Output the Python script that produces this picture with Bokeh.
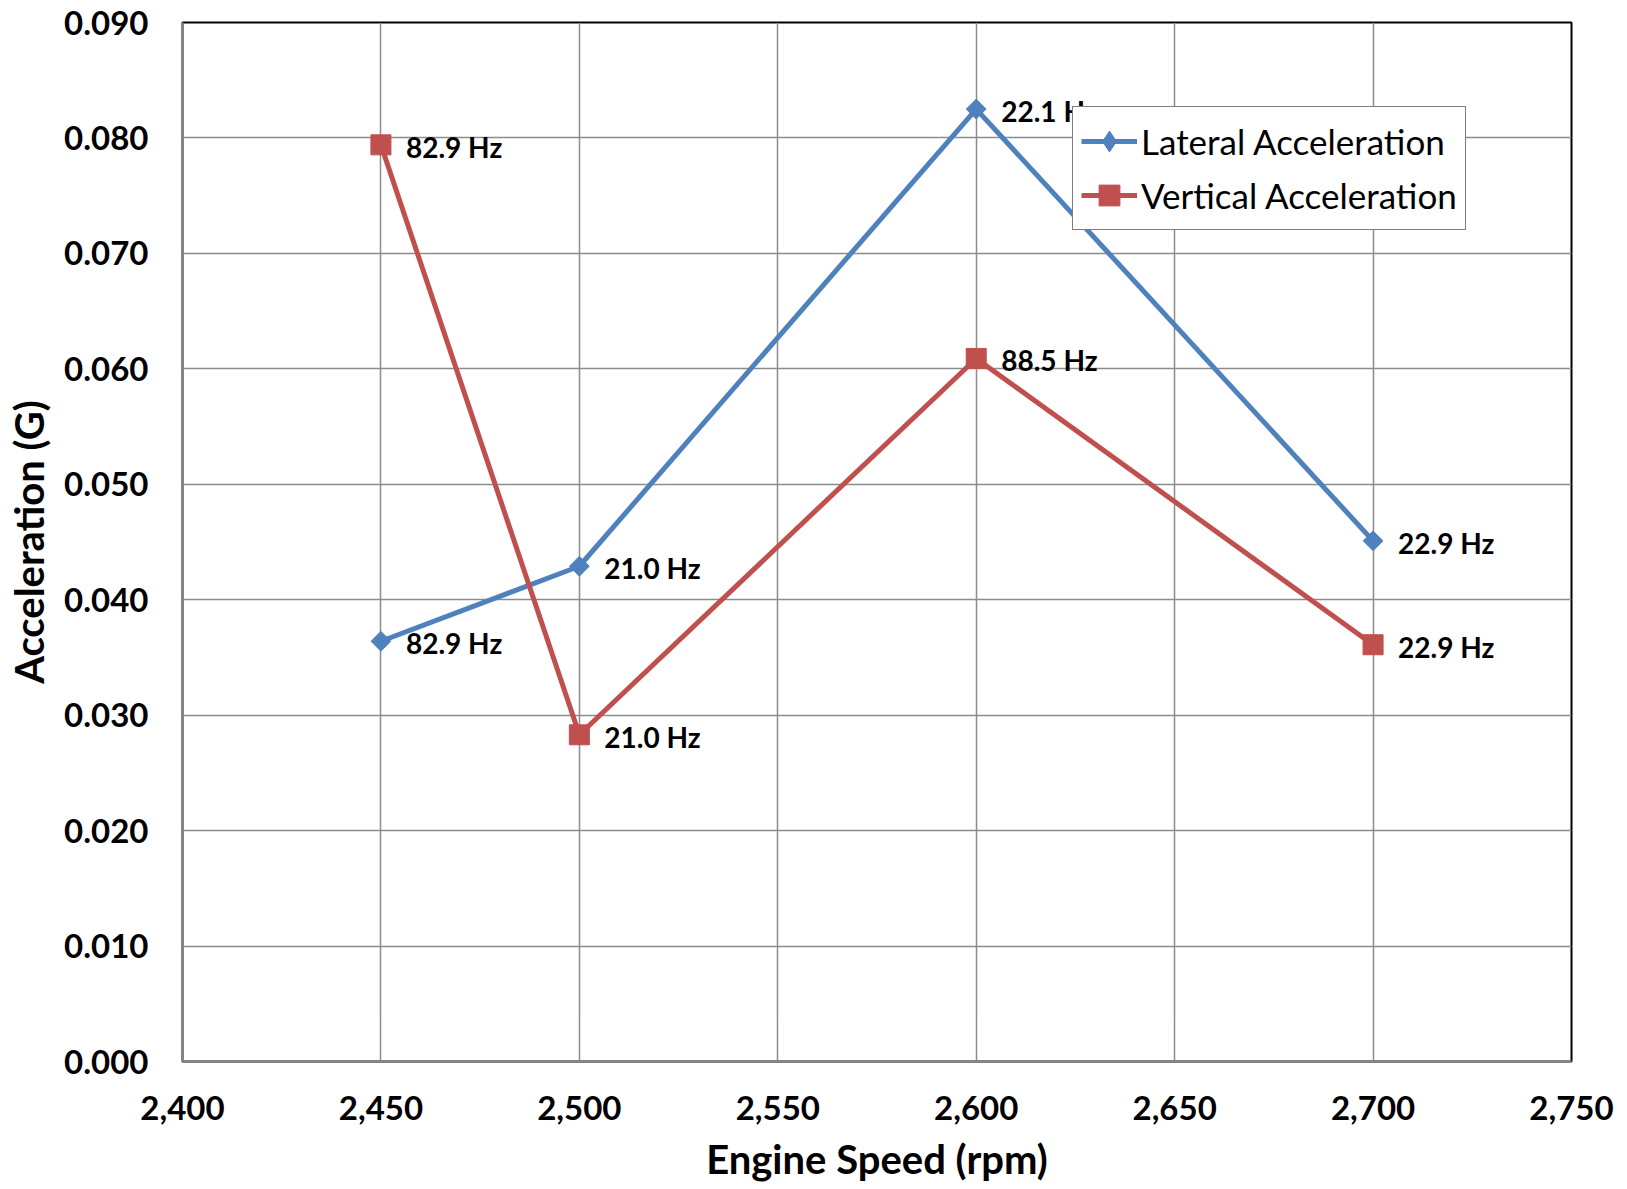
from bokeh.plotting import figure
from bokeh.models import NumeralTickFormatter, FixedTicker, Range1d, ColumnDataSource, Legend, LegendItem
from bokeh.core.properties import value
from bokeh.embed import file_html
from bokeh.resources import INLINE
import math

rpm = [2450, 2500, 2600, 2700]
lateral = [0.0364, 0.0429, 0.0825, 0.0451]
vertical = [0.0794, 0.0283, 0.0609, 0.0361]
lateral_labels = ["82.9 Hz", "21.0 Hz", "22.1 Hz", "22.9 Hz"]
vertical_labels = ["82.9 Hz", "21.0 Hz", "88.5 Hz", "22.9 Hz"]
x_ticks = [2400, 2450, 2500, 2550, 2600, 2650, 2700, 2750]
y_ticks = [0.0, 0.01, 0.02, 0.03, 0.04, 0.05, 0.06, 0.07, 0.08, 0.09]

BLUE = "#4F81BD"
RED = "#C0504D"
FONT = "Lato"

p = figure(width=1619, height=1185, output_backend="svg", toolbar_location=None,
           x_range=Range1d(2400, 2750), y_range=Range1d(0, 0.09),
           min_border_left=182, min_border_top=22, min_border_right=48, min_border_bottom=124)

p.outline_line_color = "black"
p.outline_line_width = 2

for ax in (p.xaxis[0], p.yaxis[0]):
    ax.axis_line_color = "#868686"
    ax.axis_line_width = 2.5
    ax.major_tick_line_color = None
    ax.minor_tick_line_color = None
    ax.major_label_text_font = FONT
    ax.major_label_text_font_style = "bold"
    ax.major_label_text_font_size = "33px"
    ax.major_label_text_color = "black"
    ax.axis_label_text_font = FONT
    ax.axis_label_text_font_style = "bold"
    ax.axis_label_text_font_size = "40px"
    ax.axis_label_text_color = "black"

p.xaxis.ticker = FixedTicker(ticks=x_ticks)
p.yaxis.ticker = FixedTicker(ticks=y_ticks)
p.xaxis.formatter = NumeralTickFormatter(format="0,0")
p.yaxis.formatter = NumeralTickFormatter(format="0.000")
p.xaxis.major_label_standoff = 28
p.yaxis.major_label_standoff = 28
p.xaxis.axis_label = "Engine Speed (rpm)"
p.yaxis.axis_label = "Acceleration (G)"
p.xaxis.axis_label_standoff = 12
p.yaxis.axis_label_standoff = 8

p.xgrid.grid_line_color = "#8c8c8c"
p.ygrid.grid_line_color = "#8c8c8c"
p.xgrid.grid_line_width = 1.5
p.ygrid.grid_line_width = 1.5

src_l = ColumnDataSource(dict(x=rpm, y=lateral, t=lateral_labels))
src_v = ColumnDataSource(dict(x=rpm, y=vertical, t=vertical_labels))

ll = p.line("x", "y", source=src_l, line_color=BLUE, line_width=5)
p.scatter("x", "y", source=src_l, marker="square", angle=math.pi / 4, size=14,
          fill_color=BLUE, line_color=BLUE)
vl = p.line("x", "y", source=src_v, line_color=RED, line_width=5)
p.scatter("x", "y", source=src_v, marker="square", size=20, fill_color=RED, line_color=RED)

# legend-only marker renderers (their point lies outside the visible ranges)
off = ColumnDataSource(dict(x=[0], y=[-1]))
ls = p.scatter("x", "y", source=off, marker="diamond", size=10, fill_color=BLUE, line_color=BLUE)
vs = p.scatter("x", "y", source=off, marker="square", size=10, fill_color=RED, line_color=RED)

for src in (src_l, src_v):
    p.text("x", "y", text="t", source=src, x_offset=25, y_offset=2,
           text_font=value(FONT), text_font_style="bold", text_font_size="28px",
           text_baseline="middle", text_align="left", text_color="black")

legend = Legend(items=[LegendItem(label="Lateral Acceleration", renderers=[ll, ls]),
                       LegendItem(label="Vertical Acceleration", renderers=[vl, vs])],
                location=(890, 831))
legend.label_text_font = FONT
legend.label_text_font_size = "35px"
legend.label_text_color = "black"
legend.border_line_color = "black"
legend.border_line_width = 1.5
legend.glyph_width = 56
legend.glyph_height = 52
legend.label_standoff = 4
legend.label_height = 52
legend.spacing = 2
legend.padding = 8
legend.margin = 0
legend.background_fill_alpha = 1
p.add_layout(legend)

open("out.html", "w").write(file_html(p, INLINE))
